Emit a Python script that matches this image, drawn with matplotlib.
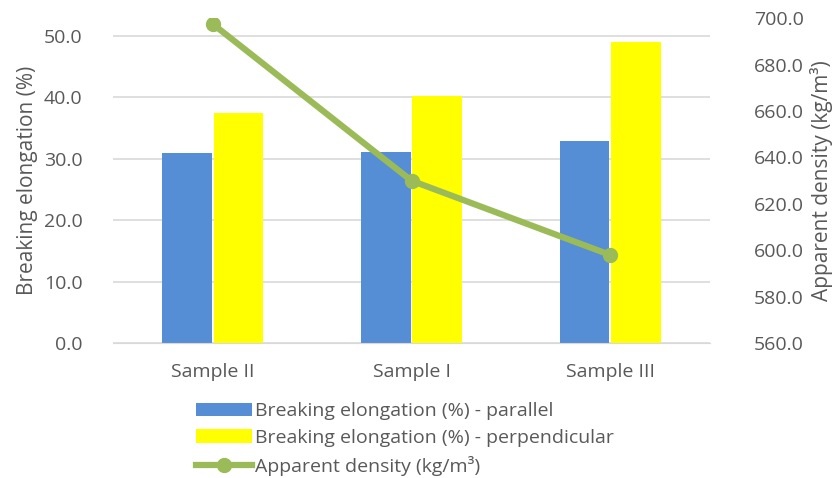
import matplotlib.pyplot as plt
import numpy as np

samples = ['Sample II', 'Sample I', 'Sample III']
elong_parallel = [30.9, 31.1, 32.9]
elong_perpendicular = [37.5, 40.2, 49.0]
density = [697.5, 630.0, 598.0]

plt.rcParams['font.family'] = ['Open Sans', 'DejaVu Sans']
txt = '#595959'

fig = plt.figure(figsize=(8.33, 4.78), dpi=100)
ax = fig.add_axes([0.136, 0.282, 0.716, 0.68])
ax2 = ax.twinx()

x = np.arange(len(samples))
w = 0.25
b1 = ax.bar(x - 0.13, elong_parallel, w, color='#558ED5',
            label='Breaking elongation (%) - parallel', zorder=2)
b2 = ax.bar(x + 0.13, elong_perpendicular, w, color='#FFFF00',
            label='Breaking elongation (%) - perpendicular', zorder=2)
l1, = ax2.plot(x, density, color='#9BBB59', linewidth=4.5, marker='o',
               markersize=10, label='Apparent density (kg/m³)')

ax.set_xlim(-0.5, 2.5)
ax.set_ylim(0, 52.9)
ax.set_yticks(np.arange(0, 51, 10))
ax.set_yticklabels([f'{v:.1f}' for v in np.arange(0, 51, 10)])
ax2.set_ylim(560, 700)
ax2.set_yticks(np.arange(560, 701, 20))
ax2.set_yticklabels([f'{v:.1f}' for v in np.arange(560, 701, 20)])

ax.set_xticks(x)
ax.set_xticklabels(samples)
ax.grid(axis='y', color='#D9D9D9', linewidth=1.2, zorder=0)
ax.set_axisbelow(True)

for a in (ax, ax2):
    for s in a.spines.values():
        s.set_visible(False)
    a.tick_params(length=0, labelsize=14, colors=txt)
ax.spines['bottom'].set_visible(True)
ax.spines['bottom'].set_color('#D9D9D9')
ax.tick_params(axis='y', pad=22)
ax2.tick_params(axis='y', pad=32)
ax.tick_params(axis='x', pad=14)

ax.set_ylabel('Breaking elongation (%)', fontsize=15, color=txt, labelpad=4)
ax2.set_ylabel('Apparent density (kg/m³)', fontsize=15, color=txt, labelpad=4)

fig.legend(handles=[b1, b2, l1], loc='upper left', bbox_to_anchor=(0.226, 0.175),
           frameon=False, fontsize=14, labelcolor=txt, handlelength=2.9,
           handletextpad=0.15, labelspacing=0.45, borderaxespad=0)

fig.savefig('out.png', dpi=100)
